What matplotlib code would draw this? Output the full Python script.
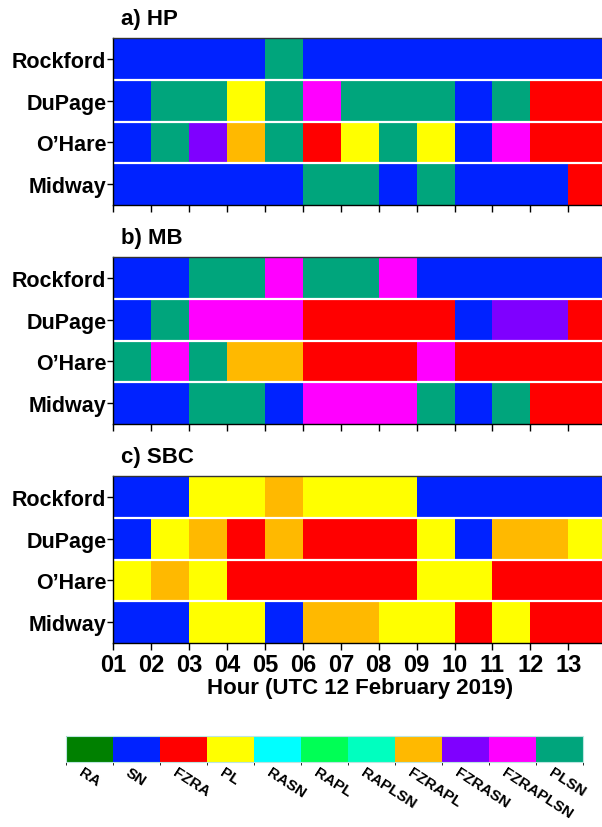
import matplotlib
matplotlib.use('Agg')
import matplotlib.pyplot as plt
import matplotlib as mpl
import numpy as np
from matplotlib.colors import ListedColormap, BoundaryNorm
from matplotlib.transforms import ScaledTranslation

plt.rcParams['font.family'] = ['Liberation Sans', 'DejaVu Sans']
plt.rcParams['font.weight'] = 'bold'

# precipitation type categories and their colours
categories = ['RA', 'SN', 'FZRA', 'PL', 'RASN', 'RAPL', 'RAPLSN',
              'FZRAPL', 'FZRASN', 'FZRAPLSN', 'PLSN']
cat_colors = ['#008000', '#0022ff', '#ff0000', '#ffff00', '#00ffff', '#00ff55',
              '#00ffbf', '#ffb900', '#7f00ff', '#ff00ff', '#00a57c']

stations = ['Rockford', 'DuPage', 'O\u2019Hare', 'Midway']
hour_edges = list(range(1, 15))          # hourly bins 01-02 ... 13-14
hour_labels = ['01', '02', '03', '04', '05', '06', '07', '08', '09',
               '10', '11', '12', '13']

# a) HP
hp_rows = [
    ['SN', 'SN', 'SN', 'SN', 'PLSN', 'SN', 'SN', 'SN', 'SN', 'SN', 'SN', 'SN', 'SN'],
    ['SN', 'PLSN', 'PLSN', 'PL', 'PLSN', 'FZRAPLSN', 'PLSN', 'PLSN', 'PLSN', 'SN', 'PLSN', 'FZRA', 'FZRA'],
    ['SN', 'PLSN', 'FZRASN', 'FZRAPL', 'PLSN', 'FZRA', 'PL', 'PLSN', 'PL', 'SN', 'FZRAPLSN', 'FZRA', 'FZRA'],
    ['SN', 'SN', 'SN', 'SN', 'SN', 'PLSN', 'PLSN', 'SN', 'PLSN', 'SN', 'SN', 'SN', 'FZRA'],
]
# b) MB
mb_rows = [
    ['SN', 'SN', 'PLSN', 'PLSN', 'FZRAPLSN', 'PLSN', 'PLSN', 'FZRAPLSN', 'SN', 'SN', 'SN', 'SN', 'SN'],
    ['SN', 'PLSN', 'FZRAPLSN', 'FZRAPLSN', 'FZRAPLSN', 'FZRA', 'FZRA', 'FZRA', 'FZRA', 'SN', 'FZRASN', 'FZRASN', 'FZRA'],
    ['PLSN', 'FZRAPLSN', 'PLSN', 'FZRAPL', 'FZRAPL', 'FZRA', 'FZRA', 'FZRA', 'FZRAPLSN', 'FZRA', 'FZRA', 'FZRA', 'FZRA'],
    ['SN', 'SN', 'PLSN', 'PLSN', 'SN', 'FZRAPLSN', 'FZRAPLSN', 'FZRAPLSN', 'PLSN', 'SN', 'PLSN', 'FZRA', 'FZRA'],
]
# c) SBC
sbc_rows = [
    ['SN', 'SN', 'PL', 'PL', 'FZRAPL', 'PL', 'PL', 'PL', 'SN', 'SN', 'SN', 'SN', 'SN'],
    ['SN', 'PL', 'FZRAPL', 'FZRA', 'FZRAPL', 'FZRA', 'FZRA', 'FZRA', 'PL', 'SN', 'FZRAPL', 'FZRAPL', 'PL'],
    ['PL', 'FZRAPL', 'PL', 'FZRA', 'FZRA', 'FZRA', 'FZRA', 'FZRA', 'PL', 'PL', 'FZRA', 'FZRA', 'FZRA'],
    ['SN', 'SN', 'PL', 'PL', 'SN', 'FZRAPL', 'FZRAPL', 'PL', 'PL', 'FZRA', 'PL', 'FZRA', 'FZRA'],
]

panels = [('a) HP', hp_rows), ('b) MB', mb_rows), ('c) SBC', sbc_rows)]

cmap = ListedColormap(cat_colors)
norm = BoundaryNorm(np.arange(len(categories) + 1) - 0.5, cmap.N)

W, H = 602, 828
fig = plt.figure(figsize=(W / 100, H / 100), dpi=100)

# pixel boxes (top, bottom) of the three panels
panel_tops = [39.3, 258.3, 477.0]
panel_bottoms = [206.0, 425.0, 644.0]
x_left = 113.3
x_right = x_left + 13 * 37.92

for i, (title, rows) in enumerate(panels):
    top, bot = panel_tops[i], panel_bottoms[i]
    ax = fig.add_axes([x_left / W, 1 - bot / H, (x_right - x_left) / W, (bot - top) / H])
    codes = np.array([[categories.index(c) for c in r] for r in rows])
    ax.pcolormesh(hour_edges, np.arange(len(stations) + 1), codes, cmap=cmap, norm=norm)
    for yb in range(1, len(stations)):
        ax.axhline(yb, color='white', lw=1.6)
    ax.set_xlim(hour_edges[0], hour_edges[-1])
    ax.set_ylim(len(stations), 0)
    ax.set_yticks(np.arange(len(stations)) + 0.5)
    ax.set_yticklabels(stations, fontsize=15.5, fontweight='bold')
    ax.set_xticks(hour_edges[:-1])
    ax.tick_params(axis='y', length=4, width=1, pad=1)
    ax.tick_params(axis='x', length=5, width=1)
    if i == 2:
        ax.set_xticklabels(hour_labels, fontsize=17, fontweight='bold')
        ax.tick_params(axis='x', pad=2)
        ax.set_xlabel('Hour (UTC 12 February 2019)', fontsize=16, fontweight='bold', labelpad=1)
    else:
        ax.set_xticklabels([])
    for sp in ax.spines.values():
        sp.set_linewidth(1.0)
    ax.spines['top'].set_color('#333333')
    ax.text(121 / W, 1 - (top - 9) / H, title, transform=fig.transFigure,
            fontsize=16, fontweight='bold', ha='left', va='bottom')

# category colour bar
cax = fig.add_axes([66 / W, 1 - 762.5 / H, (583 - 66) / W, 26 / H])
cb = fig.colorbar(mpl.cm.ScalarMappable(norm=norm, cmap=cmap), cax=cax,
                  orientation='horizontal', ticks=np.arange(len(categories)))
cb.outline.set_edgecolor('#bbe5e0')
cb.outline.set_linewidth(0.8)
cax.tick_params(length=0, pad=2.5)
cax.set_xticklabels(categories, fontsize=11, fontweight='bold', rotation=-33,
                    ha='left', va='top', rotation_mode='anchor')
shift = ScaledTranslation(-6 / 100, 0, fig.dpi_scale_trans)
for lab in cax.get_xticklabels():
    lab.set_transform(lab.get_transform() + shift)

fig.savefig('out.png', dpi=100)
